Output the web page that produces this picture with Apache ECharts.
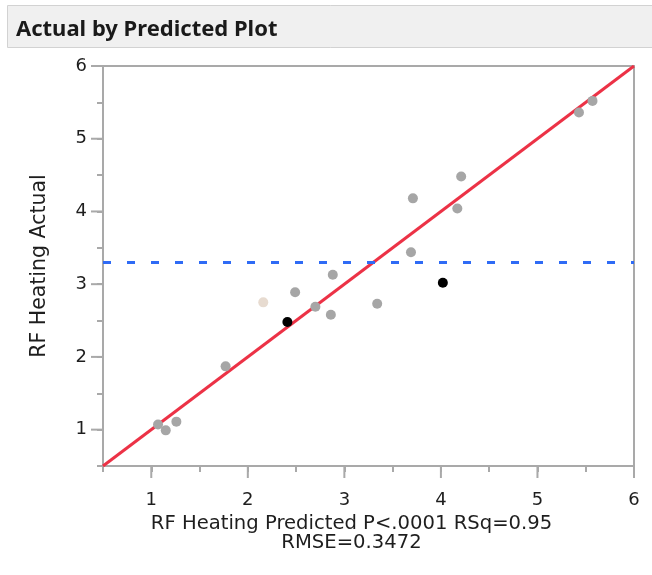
<!DOCTYPE html>
<html>
<head>
<meta charset="utf-8">
<script src="https://cdn.jsdelivr.net/npm/echarts@6/dist/echarts.min.js"></script>
<style>
  html, body { margin: 0; padding: 0; background: #ffffff; }
  #chart { width: 652px; height: 575px; }
</style>
</head>
<body>
<div id="chart"></div>
<script>
// Rows that are shown as ordinary gray markers
const predictedGray = [1.07, 1.15, 1.26, 1.77, 2.49, 2.70, 2.86, 2.88, 3.34, 3.69, 3.71, 4.17, 4.21, 5.43, 5.57];
const actualGray    = [1.07, 0.99, 1.11, 1.87, 2.89, 2.69, 2.58, 3.13, 2.73, 3.44, 4.18, 4.04, 4.48, 5.36, 5.52];
// Rows highlighted in black
const predictedBlack = [2.41, 4.02];
const actualBlack    = [2.48, 3.02];
// Row drawn in a light beige marker
const predictedBeige = [2.16];
const actualBeige    = [2.75];
// Identity fit line end points and the mean of the response
const fitEnds = [0.5, 6];
const meanActual = 3.30;
// Axis ranges and labelled ticks
const axisRange = [0.5, 6];
const tickLabels = [1, 2, 3, 4, 5, 6];

const TITLE_FONT = '"Noto Sans", "Open Sans", sans-serif';
const FONT = '"DejaVu Sans", "Noto Sans", sans-serif';
const AXIS_GRAY = '#a9a9a9';
const TEXT = '#1e1e1e';
const LONG_TICK = 12;

function pairs(xs, ys) { return xs.map((x, i) => [x, ys[i]]); }

const chart = echarts.init(document.getElementById('chart'), null, { renderer: 'canvas' });

// axes: frame line, short half-unit ticks, labels and titles
function mainAxis(isX) {
  return {
    type: 'value',
    min: axisRange[0],
    max: axisRange[1],
    interval: 0.5,
    position: isX ? 'bottom' : 'left',
    splitLine: { show: false },
    axisLine: { show: true, onZero: false, lineStyle: { color: AXIS_GRAY, width: 2 } },
    axisTick: { show: true, length: 6, lineStyle: { color: AXIS_GRAY, width: 2 } },
    axisLabel: {
      show: true,
      customValues: tickLabels,
      margin: isX ? 25 : 16,
      padding: isX ? 0 : [4, 0, 0, 0],
      fontFamily: FONT,
      fontSize: 18,
      color: TEXT,
      formatter: v => String(v)
    },
    name: isX ? 'RF Heating Predicted P<.0001 RSq=0.95\nRMSE=0.3472' : 'RF Heating Actual',
    nameLocation: 'middle',
    nameGap: isX ? 41 : 53,
    nameTextStyle: isX
      ? { fontFamily: FONT, fontSize: 19.6, color: TEXT, lineHeight: 19, padding: [0, 34, 0, 0] }
      : { fontFamily: FONT, fontSize: 20.5, color: TEXT }
  };
}

const titleBox = {
  id: 'title-box',
  type: 'rect',
  z: -1,
  shape: { x: 7.5, y: 5.5, width: 660, height: 42 },
  style: { fill: '#f0f0f0', stroke: '#d2d2d2', lineWidth: 1 }
};

const markerBase = { type: 'scatter', symbol: 'circle', symbolSize: 10, z: 4 };

chart.setOption({
  animation: false,
  backgroundColor: '#ffffff',
  title: {
    text: 'Actual by Predicted Plot',
    left: 11,
    top: 14,
    textStyle: { fontFamily: TITLE_FONT, fontWeight: 'bold', fontSize: 22, color: '#1a1a1a' }
  },
  graphic: { elements: [titleBox] },
  grid: {
    left: 103, top: 66, right: 18, bottom: 109,
    show: true, borderColor: AXIS_GRAY, borderWidth: 2, backgroundColor: 'transparent'
  },
  xAxis: mainAxis(true),
  yAxis: mainAxis(false),
  series: [
    {
      type: 'line',
      data: pairs(fitEnds, fitEnds),
      symbol: 'none',
      lineStyle: { color: '#ec3246', width: 3 },
      z: 3,
      markLine: {
        silent: true,
        symbol: 'none',
        label: { show: false },
        lineStyle: { color: '#2f6bf5', width: 3, type: [8, 16] },
        data: [{ yAxis: meanActual }]
      }
    },
    Object.assign({}, markerBase, { data: pairs(predictedGray, actualGray), itemStyle: { color: '#a6a6a6', opacity: 1 } }),
    Object.assign({}, markerBase, { data: pairs(predictedBeige, actualBeige), itemStyle: { color: '#e7dbd0', opacity: 1 } }),
    Object.assign({}, markerBase, { data: pairs(predictedBlack, actualBlack), itemStyle: { color: '#000000', opacity: 1 } })
  ]
});

// longer ticks at the labelled whole numbers, positioned through the axis scales
const wholeTicks = [];
tickLabels.forEach((v, i) => {
  const onX = chart.convertToPixel({ gridIndex: 0 }, [v, axisRange[0]]);
  const onY = chart.convertToPixel({ gridIndex: 0 }, [axisRange[0], v]);
  const style = { stroke: AXIS_GRAY, lineWidth: 2 };
  wholeTicks.push({
    id: 'x-tick-' + i, type: 'line', z: 5, silent: true,
    shape: { x1: onX[0], y1: onX[1], x2: onX[0], y2: onX[1] + LONG_TICK }, style
  });
  wholeTicks.push({
    id: 'y-tick-' + i, type: 'line', z: 5, silent: true,
    shape: { x1: onY[0], y1: onY[1], x2: onY[0] - LONG_TICK, y2: onY[1] }, style
  });
});
chart.setOption({ graphic: { elements: [titleBox].concat(wholeTicks) } });
</script>
</body>
</html>
